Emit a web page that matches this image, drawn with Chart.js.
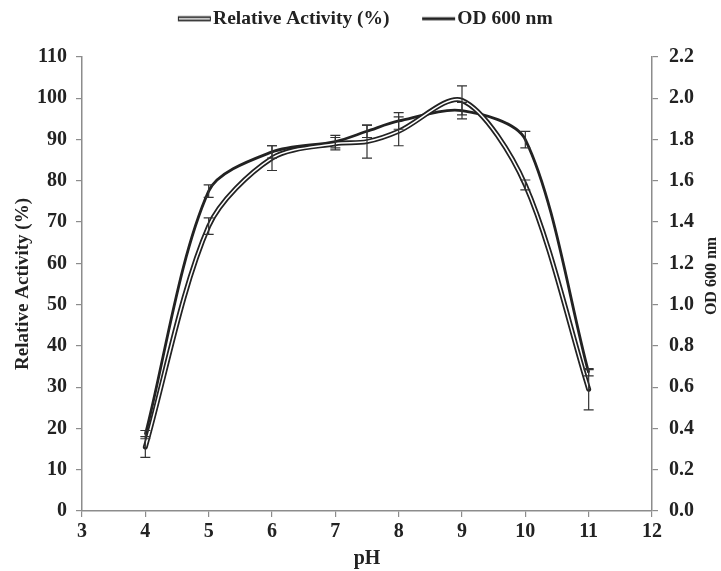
<!DOCTYPE html>
<html>
<head>
<meta charset="utf-8">
<script src="https://cdn.jsdelivr.net/npm/chart.js@4.4.1/dist/chart.umd.min.js"></script>
<style>
  html, body { margin: 0; padding: 0; background: #fff; }
</style>
</head>
<body>
<canvas id="phChart" width="721" height="571"></canvas>
<script>
// pH values where samples were taken
const phValues = [4, 5, 6, 7, 7.5, 8, 9, 10, 11];
// Relative activity (%) and its error
const activityValues = [15.5, 69, 85.5, 89, 89.5, 92, 99.5, 79, 29.5];
const activityErrors = [2.5, 2, 3, 1.5, 4, 3.5, 3.5, 1.2, 5];
// OD 600 nm and its error
const odValues = [0.37, 1.55, 1.74, 1.79, 1.84, 1.89, 1.94, 1.80, 0.67];
const odErrors = [0.02, 0.03, 0.03, 0.03, 0.03, 0.04, 0.04, 0.04, 0.015];
// axis ranges: min, max, step
const phTicks = [3, 12, 1];
const activityTicks = [0, 110, 10];
const odTicks = [0, 2.2, 0.2];

const darkColor = '#222';
const axisColor = '#8c8c8c';
const serif = "'Liberation Serif', 'Times New Roman', serif";

const activityPoints = phValues.map((ph, i) => ({x: ph, y: activityValues[i]}));
const odPoints = phValues.map((ph, i) => ({x: ph, y: odValues[i]}));

// legend symbols (wide canvas so the line sits close to its text)
function makeSymbol(doubleLine) {
    const c = document.createElement('canvas');
    c.width = 70;
    c.height = 8;
    const g = c.getContext('2d');
    g.beginPath();
    g.moveTo(35, 4);
    g.lineTo(68, 4);
    g.strokeStyle = darkColor;
    g.lineWidth = doubleLine ? 5 : 2.8;
    g.stroke();
    if (doubleLine) {
        g.beginPath();
        g.moveTo(36, 4);
        g.lineTo(67, 4);
        g.strokeStyle = '#fff';
        g.lineWidth = 1.5;
        g.stroke();
    }
    return c;
}
const activitySymbol = makeSymbol(true);
const odSymbol = makeSymbol(false);

// vertical error bars with caps
const errorBarPlugin = {
    id: 'errorBars',
    afterDatasetsDraw(chart) {
        const ctx = chart.ctx;
        const xScale = chart.scales.x;
        const sets = [
            {scale: chart.scales.y, values: activityValues, errors: activityErrors},
            {scale: chart.scales.y1, values: odValues, errors: odErrors},
        ];
        ctx.save();
        ctx.strokeStyle = '#333';
        ctx.lineWidth = 1.2;
        for (const s of sets) {
            s.values.forEach((v, i) => {
                const px = xScale.getPixelForValue(phValues[i]);
                const top = s.scale.getPixelForValue(v + s.errors[i]);
                const bottom = s.scale.getPixelForValue(v - s.errors[i]);
                ctx.beginPath();
                ctx.moveTo(px, top);
                ctx.lineTo(px, bottom);
                ctx.moveTo(px - 5, top);
                ctx.lineTo(px + 5, top);
                ctx.moveTo(px - 5, bottom);
                ctx.lineTo(px + 5, bottom);
                ctx.stroke();
            });
        }
        ctx.restore();
    },
};

// right axis title reads bottom-to-top like the left one
const rightTitlePlugin = {
    id: 'rightTitle',
    afterLayout(chart) {
        // keep the legend near the top of the canvas
        const lg = chart.legend;
        const h = lg.bottom - lg.top;
        lg.top = 2;
        lg.bottom = 2 + h;
    },
    afterDraw(chart) {
        const ctx = chart.ctx;
        ctx.save();
        ctx.translate(712, 276);
        ctx.rotate(-Math.PI / 2);
        ctx.font = 'bold 16px ' + serif;
        ctx.fillStyle = darkColor;
        ctx.textAlign = 'center';
        ctx.textBaseline = 'middle';
        ctx.fillText('OD 600 nm', 0, 0);
        ctx.restore();
    },
};

function axisOptions(range, position, title, fmt, fit) {
    return {
        type: 'linear',
        position: position,
        min: range[0],
        max: range[1],
        border: {color: axisColor, width: 1.5},
        grid: {drawOnChartArea: false, color: axisColor, tickLength: 6, lineWidth: 1.2},
        ticks: {
            stepSize: range[2],
            color: darkColor,
            font: {family: serif, size: 20, weight: 'bold'},
            padding: position === 'right' ? 11 : (position === 'left' ? 9 : 3),
            maxRotation: 0,
            callback: fmt,
        },
        title: {
            display: !!title,
            text: title,
            color: darkColor,
            font: {family: serif, size: position === 'left' ? 19 : 20, weight: 'bold'},
            padding: {top: 2, bottom: 0},
        },
        afterFit: fit,
    };
}

const ctx = document.getElementById('phChart').getContext('2d');

new Chart(ctx, {
    type: 'line',
    data: {
        datasets: [
            {
                label: 'Relative Activity (%)',
                data: activityPoints,
                borderColor: '#fff',
                borderWidth: 1.5,
                tension: 0.3,
                pointRadius: 0,
                yAxisID: 'y',
                order: 1,
            },
            {
                label: 'activity outline',
                data: activityPoints,
                borderColor: darkColor,
                borderWidth: 5,
                borderCapStyle: 'round',
                tension: 0.3,
                pointRadius: 0,
                yAxisID: 'y',
                order: 2,
            },
            {
                label: 'OD 600 nm',
                data: odPoints,
                borderColor: darkColor,
                borderWidth: 2.8,
                tension: 0.3,
                pointRadius: 0,
                yAxisID: 'y1',
                order: 3,
            },
        ],
    },
    options: {
        responsive: false,
        animation: false,
        layout: {padding: {left: 10, right: 26, top: 0, bottom: 0}},
        plugins: {
            tooltip: {enabled: false},
            legend: {
                position: 'top',
                labels: {
                    usePointStyle: true,
                    pointStyleWidth: 51,
                    color: darkColor,
                    font: {family: serif, size: 19.5, weight: 'bold'},
                    padding: 7,
                    generateLabels: () => [
                        {text: 'Relative Activity (%)', pointStyle: activitySymbol, fontColor: darkColor, lineWidth: 0, strokeStyle: 'transparent', fillStyle: 'transparent'},
                        {text: 'OD 600 nm', pointStyle: odSymbol, fontColor: darkColor, lineWidth: 0, strokeStyle: 'transparent', fillStyle: 'transparent'},
                    ],
                },
            },
        },
        scales: {
            x: axisOptions(phTicks, 'bottom', 'pH', undefined, (s) => { s.height = 60; }),
            y: axisOptions(activityTicks, 'left', 'Relative Activity (%)', undefined, (s) => { s.width = 72; s.paddingTop = 57; }),
            y1: axisOptions(odTicks, 'right', '', (v) => v.toFixed(1), (s) => { s.width = 43; }),
        },
    },
    plugins: [errorBarPlugin, rightTitlePlugin],
});
</script>
</body>
</html>
